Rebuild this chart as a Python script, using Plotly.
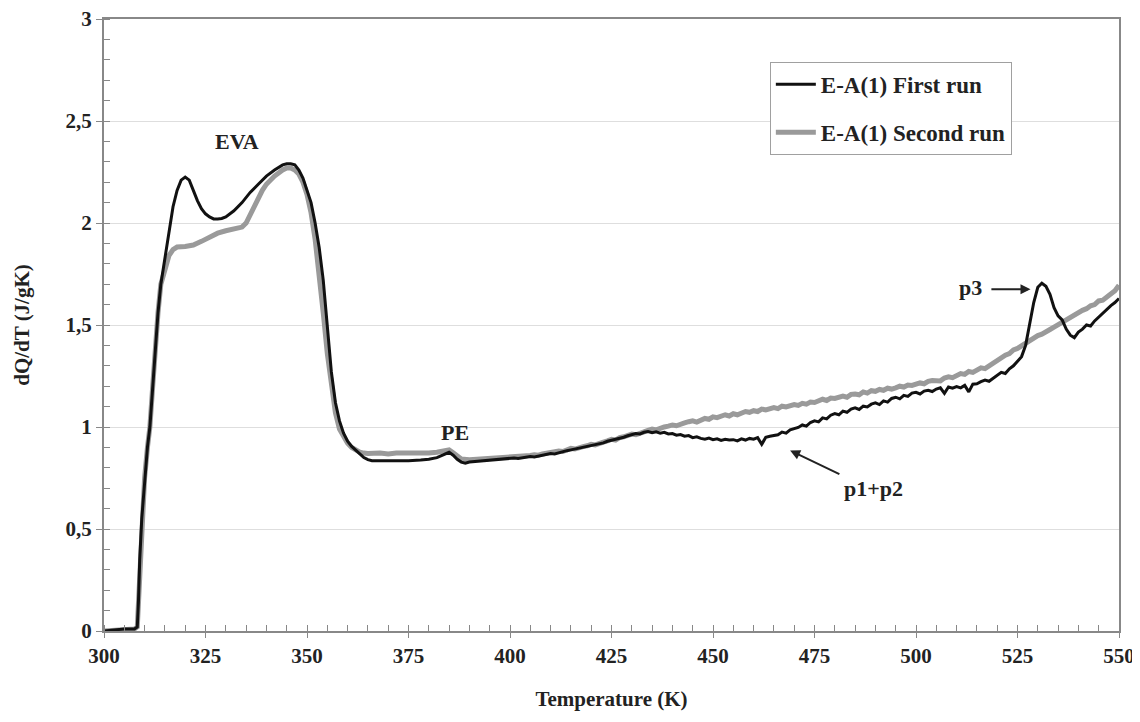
import plotly.graph_objects as go

# ---------------- data ----------------
# First run (black): low-temperature part, irregular spacing
t_first_lo = [300, 303, 305, 307.5, 308.2, 308.5, 308.8, 309.3, 310, 310.7, 311.3, 312, 312.6, 313.3,
              314, 315, 316, 317, 318, 319, 320, 321, 322, 323, 324, 325, 326, 327, 328, 329, 330,
              332, 334, 336, 338, 340, 342, 344, 345, 346, 347, 348, 349, 350, 351, 352, 353, 354,
              355, 356, 357, 358, 359, 360, 361, 362, 363, 364, 365, 366, 368, 370, 372, 375, 378,
              380, 382, 384, 385, 386, 387, 388, 389, 390, 392, 395, 398]
y_first_lo = [0.0, 0.005, 0.01, 0.01, 0.02, 0.15, 0.35, 0.55, 0.75, 0.90, 1.0, 1.2, 1.40, 1.56,
              1.70, 1.82, 1.94, 2.08, 2.16, 2.21, 2.225, 2.21, 2.16, 2.11, 2.07, 2.045, 2.03, 2.02, 2.02, 2.022, 2.03,
              2.06, 2.10, 2.15, 2.19, 2.23, 2.26, 2.285, 2.29, 2.29, 2.285, 2.26, 2.22, 2.16, 2.10, 2.00, 1.88, 1.72,
              1.50, 1.27, 1.12, 1.03, 0.97, 0.93, 0.905, 0.885, 0.865, 0.85, 0.84, 0.835, 0.835, 0.834, 0.836, 0.835, 0.838,
              0.842, 0.85, 0.866, 0.876, 0.862, 0.842, 0.828, 0.823, 0.828, 0.832, 0.838, 0.843]

# Second run (grey): low-temperature part
t_second_lo = [300, 303, 305, 307.5, 308.2, 308.5, 308.8, 309.3, 310, 310.7, 311.3, 312, 312.6, 313.3,
               314, 315, 316, 317, 318, 320, 322, 324, 326, 328, 330, 332, 334, 335, 336, 337, 338,
               339, 340, 342, 344, 345, 346, 347, 348, 349, 350, 351, 352, 353, 354, 355, 356, 357,
               358, 359, 360, 361, 362, 363, 364, 365, 368, 370, 372, 375, 378, 380, 382, 384, 385,
               386, 387, 388, 390, 392, 395, 398]
y_second_lo = [0.0, 0.005, 0.01, 0.01, 0.02, 0.15, 0.35, 0.55, 0.75, 0.90, 1.0, 1.2, 1.40, 1.56,
               1.70, 1.78, 1.84, 1.87, 1.882, 1.885, 1.892, 1.91, 1.93, 1.95, 1.962, 1.97, 1.98, 2.0, 2.04, 2.09, 2.13,
               2.16, 2.19, 2.23, 2.26, 2.27, 2.27, 2.26, 2.24, 2.20, 2.14, 2.05, 1.92, 1.76, 1.56, 1.36, 1.19, 1.07,
               0.99, 0.95, 0.92, 0.90, 0.885, 0.877, 0.872, 0.87, 0.872, 0.868, 0.872, 0.87, 0.874, 0.872, 0.876, 0.886, 0.888,
               0.874, 0.855, 0.843, 0.840, 0.842, 0.846, 0.848]

# High-temperature part, 1 K spacing from 400 to 550 K
t_hi = list(range(400, 551))
y_first_hi = [
    0.845, 0.848, 0.846, 0.850, 0.852, 0.855, 0.853, 0.858, 0.862, 0.865,
    0.870, 0.868, 0.874, 0.878, 0.884, 0.888, 0.892, 0.896, 0.899, 0.905,
    0.910, 0.913, 0.918, 0.922, 0.930, 0.935, 0.938, 0.945, 0.950, 0.957,
    0.962, 0.968, 0.966, 0.974, 0.978, 0.972, 0.976, 0.970, 0.974, 0.966,
    0.968, 0.960, 0.963, 0.955, 0.958, 0.948, 0.952, 0.944, 0.940, 0.946,
    0.938, 0.942, 0.934, 0.940, 0.936, 0.938, 0.932, 0.942, 0.936, 0.944,
    0.940, 0.948, 0.915, 0.950, 0.955, 0.958, 0.962, 0.975, 0.970, 0.986,
    0.992, 0.998, 1.010, 1.004, 1.022, 1.030, 1.025, 1.045, 1.040, 1.058,
    1.066, 1.060, 1.078, 1.072, 1.088, 1.094, 1.086, 1.102, 1.098, 1.112,
    1.118, 1.110, 1.128, 1.122, 1.140, 1.146, 1.138, 1.155, 1.150, 1.166,
    1.170, 1.162, 1.176, 1.180, 1.174, 1.186, 1.192, 1.165, 1.196, 1.190,
    1.198, 1.192, 1.204, 1.172, 1.210, 1.212, 1.222, 1.230, 1.224, 1.240,
    1.256, 1.268, 1.262, 1.285, 1.300, 1.320, 1.345, 1.400, 1.500, 1.610,
    1.685, 1.705, 1.690, 1.650, 1.585, 1.545, 1.525, 1.480, 1.450, 1.438,
    1.465, 1.480, 1.500, 1.495, 1.520, 1.540, 1.560, 1.575, 1.595, 1.610,
    1.630]
y_second_hi = [
    0.850, 0.853, 0.851, 0.856, 0.858, 0.860, 0.864, 0.862, 0.868, 0.872,
    0.875, 0.879, 0.882, 0.880, 0.889, 0.895, 0.892, 0.900, 0.904, 0.908,
    0.915, 0.912, 0.922, 0.926, 0.932, 0.940, 0.936, 0.948, 0.952, 0.958,
    0.965, 0.962, 0.972, 0.976, 0.984, 0.990, 0.986, 0.996, 1.000, 1.004,
    1.010, 1.006, 1.016, 1.020, 1.026, 1.030, 1.024, 1.036, 1.042, 1.038,
    1.050, 1.046, 1.052, 1.060, 1.054, 1.065, 1.060, 1.070, 1.076, 1.072,
    1.080, 1.076, 1.088, 1.084, 1.092, 1.095, 1.090, 1.102, 1.098, 1.106,
    1.110, 1.106, 1.116, 1.112, 1.122, 1.120, 1.128, 1.136, 1.130, 1.142,
    1.140, 1.148, 1.152, 1.146, 1.160, 1.162, 1.158, 1.172, 1.166, 1.178,
    1.175, 1.184, 1.180, 1.190, 1.186, 1.192, 1.200, 1.196, 1.206, 1.204,
    1.210, 1.216, 1.212, 1.224, 1.228, 1.230, 1.226, 1.240, 1.246, 1.242,
    1.255, 1.262, 1.258, 1.272, 1.268, 1.280, 1.290, 1.286, 1.300, 1.310,
    1.330, 1.338, 1.352, 1.360, 1.378, 1.385, 1.398, 1.405, 1.420, 1.432,
    1.448, 1.455, 1.470, 1.478, 1.490, 1.502, 1.518, 1.525, 1.540, 1.548,
    1.560, 1.572, 1.580, 1.594, 1.600, 1.618, 1.622, 1.640, 1.650, 1.668,
    1.695]

x_ticks = [300, 325, 350, 375, 400, 425, 450, 475, 500, 525, 550]
y_ticks = [0, 0.5, 1, 1.5, 2, 2.5, 3]

series_names = ["E-A(1) First run", "E-A(1) Second run"]

# ---------------- figure ----------------
FONT = "Liberation Serif, Times New Roman, serif"
fig = go.Figure()

fig.add_trace(go.Scatter(x=t_second_lo + t_hi, y=y_second_lo + y_second_hi, mode="lines",
                         name=series_names[1], legendgroup="b", legendrank=2,
                         line=dict(color="#9a9a9a", width=5)))
fig.add_trace(go.Scatter(x=t_first_lo + t_hi, y=y_first_lo + y_first_hi, mode="lines",
                         name=series_names[0], legendgroup="a", legendrank=1,
                         line=dict(color="#111111", width=3)))

ann_font = dict(family=FONT, size=22, color="#222", weight="bold")
fig.add_annotation(x=332.8, y=2.40, text="EVA", showarrow=False, font=ann_font)
fig.add_annotation(x=386.5, y=0.975, text="PE", showarrow=False, font=ann_font)
fig.add_annotation(x=489.5, y=0.70, text="p1+p2", showarrow=False, font=ann_font)
fig.add_annotation(x=513.3, y=1.685, text="p3", showarrow=False, font=ann_font)
fig.add_annotation(x=469, y=0.885, ax=481.5, ay=0.765, axref="x", ayref="y", text="",
                   showarrow=True, arrowhead=2, arrowsize=1, arrowwidth=2, arrowcolor="#222")
fig.add_annotation(x=528.2, y=1.675, ax=518.2, ay=1.675, axref="x", ayref="y", text="",
                   showarrow=True, arrowhead=2, arrowsize=1, arrowwidth=2, arrowcolor="#222")

tick_font = dict(family=FONT, size=21, color="#222", weight="bold")
title_font = dict(family=FONT, size=21, color="#222", weight="bold")
fig.update_layout(
    width=1132, height=714,
    margin=dict(l=96, r=21, t=11, b=91, autoexpand=False),
    paper_bgcolor="white", plot_bgcolor="white",
    separators=", ",
    showlegend=True,
    legend=dict(x=0.656, y=0.93, xanchor="left", yanchor="top",
                bordercolor="#a0a0a0", borderwidth=1, bgcolor="white",
                font=dict(family=FONT, size=23, color="#222", weight="bold"),
                tracegroupgap=15, itemwidth=40),
    xaxis=dict(range=[300, 550], tickvals=x_ticks, ticks="outside", ticklen=5, tickcolor="#888",
               minor=dict(dtick=5, ticks="inside", ticklen=6, tickcolor="#888"),
               showline=True, linecolor="#888", linewidth=2, mirror=True, automargin=False,
               showgrid=False, zeroline=False, tickfont=tick_font, ticklabeloverflow="allow",
               title=dict(text="Temperature (K)", standoff=24, font=title_font)),
    yaxis=dict(range=[0, 3], tickvals=y_ticks, ticks="outside", ticklen=6, tickcolor="#888",
               minor=dict(dtick=0.1, ticks="inside", ticklen=6, tickcolor="#888", showgrid=False),
               showline=True, linecolor="#888", linewidth=2, mirror=True, automargin=False,
               showgrid=True, gridcolor="#dedede", gridwidth=1, zeroline=False, tickfont=tick_font,
               ticklabeloverflow="allow",
               title=dict(text="dQ/dT (J/gK)", standoff=30, font=title_font)),
)

fig.write_html("out.html")
